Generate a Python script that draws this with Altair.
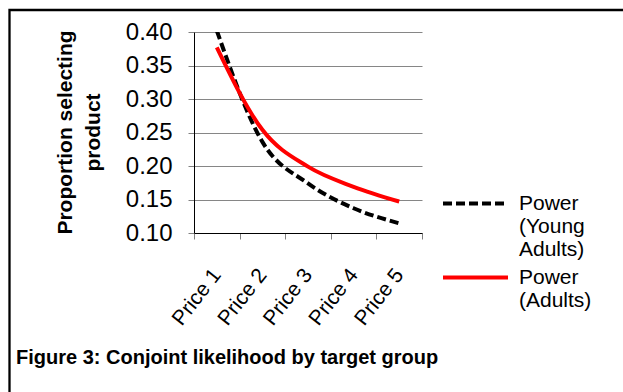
import altair as alt
import pandas as pd

prices = ["Price 1", "Price 2", "Price 3", "Price 4", "Price 5"]
young_adults = [0.402, 0.236, 0.174, 0.137, 0.1145]
adults = [0.377, 0.254, 0.199, 0.169, 0.147]
series_names = ["Power (Young Adults)", "Power (Adults)"]
legend_lines = [["Power", "(Young", "Adults)"], ["Power", "(Adults)"]]
y_ticks = [0.10, 0.15, 0.20, 0.25, 0.30, 0.35, 0.40]
title_text = "Figure 3: Conjoint likelihood by target group"
y_title = ["Proportion selecting", "product"]

df = pd.DataFrame({
    "price": prices * 2,
    "value": young_adults + adults,
    "series": [series_names[0]] * len(prices) + [series_names[1]] * len(prices),
})

FONT = "Liberation Sans"
W, H = 228, 201
LEFT, TOP = 194, 32


def legend_for(i, y):
    expr = "[" + ", ".join("'%s'" % s for s in legend_lines[i]) + "]"
    return alt.Legend(
        title=None, orient="none", legendX=247, legendY=y,
        symbolType="stroke", symbolSize=4225, symbolStrokeWidth=4,
        symbolStrokeColor=["black", "#ff0000"][i],
        labelFont=FONT, labelFontSize=21, labelColor="black", labelLimit=0,
        labelExpr=expr, labelOffset=9, labelBaseline="middle",
    )


x_enc = alt.X("price:N", sort=prices,
              scale=alt.Scale(type="band", paddingInner=0, paddingOuter=0),
              axis=alt.Axis(title=None, labelAngle=-52, labelFont=FONT, labelFontSize=21,
                            labelColor="black", tickBand="extent", tickSize=6,
                            tickColor="#808080", domainColor="black", labelPadding=32,
                            grid=False))
y_enc = alt.Y("value:Q", scale=alt.Scale(domain=[0.10, 0.40], nice=False, zero=False),
              axis=alt.Axis(values=y_ticks, format=".2f", labelFont=FONT, labelFontSize=24,
                            labelColor="black", labelPadding=16, tickSize=6,
                            tickColor="#808080", domainColor="black", gridColor="#868686",
                            gridOpacity=1, title=y_title, titleFont=FONT, titleFontSize=21,
                            titleFontWeight="bold", titleColor="black", titleAngle=-90,
                            titleX=65 - LEFT, titleY=100, titleAlign="center",
                            titleBaseline="middle", titleLineHeight=28))

base = alt.Chart(df)

young_line = base.transform_filter(alt.datum.series == series_names[0]).mark_line(
    interpolate="monotone", strokeWidth=4, color="black", clip=True
).encode(
    x=x_enc, y=y_enc,
    strokeDash=alt.StrokeDash("series:N",
                              scale=alt.Scale(domain=[series_names[0]], range=[[9, 4]]),
                              legend=legend_for(0, 137)),
)

adult_line = base.transform_filter(alt.datum.series == series_names[1]).mark_line(
    interpolate="monotone", strokeWidth=4, clip=True
).encode(
    x=x_enc, y=y_enc,
    color=alt.Color("series:N",
                    scale=alt.Scale(domain=[series_names[1]], range=["#ff0000"]),
                    legend=legend_for(1, 211)),
)

frame = alt.Chart(pd.DataFrame({"f": [0]})).mark_rect(
    fill=None, stroke="black", strokeWidth=2.3, clip=False
).encode(
    x=alt.value(9.5 - LEFT), x2=alt.value(800), y=alt.value(10 - TOP), y2=alt.value(370)
)

chart = alt.layer(frame, young_line, adult_line).properties(
    width=W, height=H,
    autosize=alt.AutoSizeParams(type="none"),
    padding={"left": LEFT, "top": TOP, "right": 623 - LEFT - W, "bottom": 392 - TOP - H},
    background="white",
    title=alt.TitleParams(text=title_text, orient="bottom", anchor="start", frame="group",
                          dx=16 - LEFT, fontSize=20, font=FONT, fontWeight="bold",
                          color="black", baseline="top", offset=-55),
).configure_view(stroke=None)

chart.save("out.html", embed_options={"renderer": "svg", "actions": False})
